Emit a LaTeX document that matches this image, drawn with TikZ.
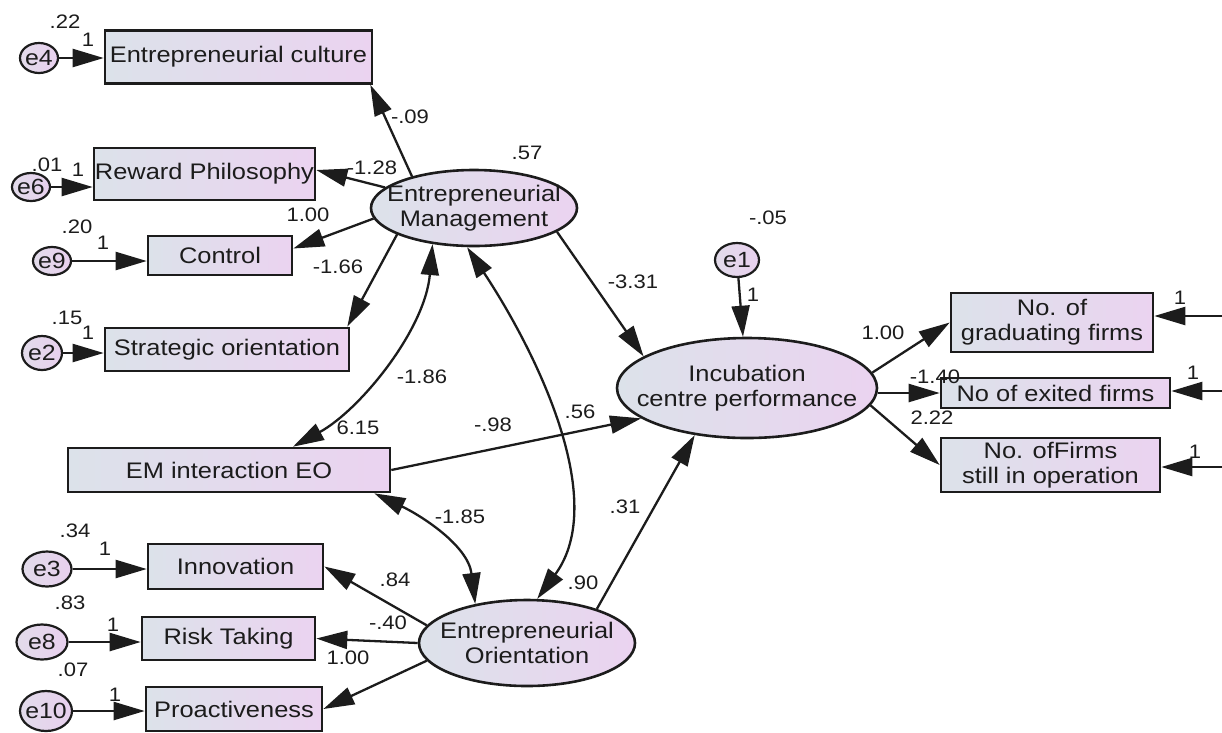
\documentclass[tikz,border=0pt]{standalone}
\usepackage{fontspec}
\setmainfont{Liberation Sans}[FakeStretch=1.13]
\usetikzlibrary{arrows.meta,shapes.geometric,calc}
\definecolor{fillL}{HTML}{DCE2EA}
\definecolor{fillR}{HTML}{EBD3F0}
\definecolor{errL}{HTML}{E2DBEA}
\definecolor{errR}{HTML}{E8D0EE}
\definecolor{ink}{HTML}{1C1C1C}
\begin{document}
\begin{tikzpicture}[x=1pt,y=-1pt,
  every node/.style={text=ink},
  obs/.style={draw=ink, line width=2.6pt, left color=fillL, right color=fillR,
    inner sep=0pt, align=center, font=\fontsize{22.5}{25}\selectfont},
  lat/.style={ellipse, draw=ink, line width=2.6pt, left color=fillL, right color=fillR,
    inner xsep=-30pt, inner ysep=-20pt, align=center, font=\fontsize{22.5}{25}\selectfont},
  err/.style={ellipse, draw=ink, line width=2.2pt, left color=errL, right color=errR,
    inner sep=-12pt, font=\fontsize{22}{24}\selectfont},
  lab/.style={inner sep=0pt, font=\fontsize{19.5}{22}\selectfont},
  path/.style={draw=ink, line width=2.3pt, -{Triangle[length=31pt,width=18pt]}},
  cov/.style={draw=ink, line width=2.3pt,
    {Triangle[length=31pt,width=18pt]}-{Triangle[length=31pt,width=18pt]}}]
\useasboundingbox (0,0) rectangle (1222,732);

% observed indicators
\node[obs, minimum width=267, minimum height=53] (cult)   at (238.5,57)  {Entrepreneurial culture};
\node[obs, minimum width=221, minimum height=52] (reward) at (204.5,174)  {Reward Philosophy};
\node[obs, minimum width=144, minimum height=39] (ctrl)   at (220,255.5)  {Control};
\node[obs, minimum width=244, minimum height=43] (strat)  at (227,349.5)  {Strategic orientation};
\node[obs, minimum width=322, minimum height=44] (emxeo)  at (229,470)    {EM interaction EO};
\node[obs, minimum width=175, minimum height=45] (innov)  at (235.5,566.5){Innovation};
\node[obs, minimum width=173, minimum height=43] (risk)   at (228.5,638.5){Risk Taking};
\node[obs, minimum width=176, minimum height=44] (proact) at (234,709)    {Proactiveness};
\node[obs, minimum width=202, minimum height=59] (grad)   at (1052,322.5) {No. of\\graduating firms};
\node[obs, minimum width=229, minimum height=30] (exit)   at (1055.5,393) {No of exited firms};
\node[obs, minimum width=219, minimum height=54] (oper)   at (1050.5,465) {No. ofFirms\\still in operation};

% latent variables
\node[lat, minimum width=206, minimum height=76]  (EM)  at (474,208) {Entrepreneurial\\Management};
\node[lat, minimum width=216, minimum height=86]  (EO)  at (527,643) {Entrepreneurial\\Orientation};
\node[lat, minimum width=260, minimum height=100] (ICP) at (747,388) {Incubation\\centre performance};

% error terms
\node[err, minimum width=38, minimum height=30] (e4)  at (39,58)   {e4};
\node[err, minimum width=38, minimum height=28] (e6)  at (31,187)  {e6};
\node[err, minimum width=38, minimum height=28] (e9)  at (52,261)  {e9};
\node[err, minimum width=40, minimum height=34] (e2)  at (42,353)  {e2};
\node[err, minimum width=49, minimum height=35] (e3)  at (47,569)  {e3};
\node[err, minimum width=51, minimum height=35] (e8)  at (42,642)  {e8};
\node[err, minimum width=52, minimum height=40] (e10) at (46,711)  {e10};
\node[err, minimum width=44, minimum height=34] (e1)  at (737,260) {e1};

% error terms of the outcome indicators lie beyond the right edge
\coordinate (r1) at (1235,316);
\coordinate (r2) at (1235,391);
\coordinate (r3) at (1235,467);

% error paths
\draw[path] (e4)  -- (cult.west |- e4);
\draw[path] (e6)  -- (reward.west |- e6);
\draw[path] (e9)  -- (ctrl.west |- e9);
\draw[path] (e2)  -- (strat.west |- e2);
\draw[path] (e3)  -- (innov.west |- e3);
\draw[path] (e8)  -- (risk.west |- e8);
\draw[path] (e10) -- (proact.west |- e10);
\draw[path] (e1)  -- (ICP);
\draw[path] (r1) -- (grad.east |- r1);
\draw[path] (r2) -- (exit.east |- r2);
\draw[path] (r3) -- (oper.east |- r3);

% loadings
\draw[path] (EM.153) -- ($(cult.south east)+(-3,0)$);
\draw[path] (EM.167) -- ($(reward.east)+(0,-4)$);
\draw[path] (EM.186) -- ($(ctrl.east)+(0,-7)$);
\draw[path] (EM.199) -- ($(strat.north east)+(-3,0)$);
\draw[path] (EO.170) -- (innov.east);
\draw[path] (EO.west) -- (risk.east);
\draw[path] (EO.190) -- (proact.east);
\draw[path] (ICP.7) -- (grad.west);
\draw[path] (ICP.east |- exit.west) -- (exit.west);
\draw[path] (ICP.352) -- (oper.west);

% structural paths
\draw[path] (EM.344) -- (ICP.163);
\draw[path] (emxeo.east) -- (ICP.196);
\draw[path] (EO.26) -- (ICP.222);

% covariances
\draw[cov] (EM.221) .. controls (425,330) and (360,410) .. ($(emxeo.north)+(64,0)$);
\draw[cov] (EM.260) .. controls (535,350) and (610,500) .. (EO.77);
\draw[cov] ($(emxeo.south east)+(-17,0)$) .. controls (420,515) and (468,545) .. (EO.143);

% variances and fixed weights
\node[lab] at (65,22)   {.22};
\node[lab] at (88,40)   {1};
\node[lab] at (47,165)  {.01};
\node[lab] at (78,170)  {1};
\node[lab] at (77,227)  {.20};
\node[lab] at (103,243) {1};
\node[lab] at (67,318)  {.15};
\node[lab] at (88,333)  {1};
\node[lab] at (75,531)  {.34};
\node[lab] at (105,549) {1};
\node[lab] at (70,603)  {.83};
\node[lab] at (113,625) {1};
\node[lab] at (73,670)  {.07};
\node[lab] at (115,695) {1};
\node[lab] at (527,153) {.57};
\node[lab] at (768,218) {-.05};
\node[lab] at (753,295) {1};
\node[lab] at (583,583) {.90};
\node[lab] at (1180,298) {1};
\node[lab] at (1193,373) {1};
\node[lab] at (1195,452) {1};

% path estimates
\node[lab] at (410,117) {-.09};
\node[lab] at (372,168) {-1.28};
\node[lab] at (308,215) {1.00};
\node[lab] at (338,267) {-1.66};
\node[lab] at (422,377) {-1.86};
\node[lab] at (358,428) {6.15};
\node[lab] at (633,282) {-3.31};
\node[lab] at (580,412) {.56};
\node[lab] at (493,425) {-.98};
\node[lab] at (460,517) {-1.85};
\node[lab] at (625,507) {.31};
\node[lab] at (395,580) {.84};
\node[lab] at (388,623) {-.40};
\node[lab] at (348,658) {1.00};
\node[lab] at (883,333) {1.00};
\node[lab] at (935,377) {-1.40};
\node[lab] at (932,418) {2.22};
\end{tikzpicture}
\end{document}
